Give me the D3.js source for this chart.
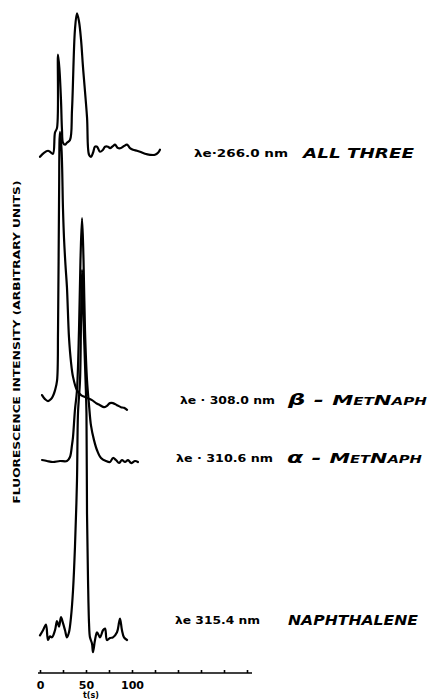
<!DOCTYPE html>
<html>
<head>
<meta charset="utf-8">
<script src="https://cdn.jsdelivr.net/npm/d3@7"></script>
<style>
  html, body { margin: 0; padding: 0; background: #fff; }
  svg { display: block; }
</style>
</head>
<body>
<svg id="chart" width="430" height="700"></svg>
<script>
// Elution time (s) and fluorescence intensity (arbitrary units, above each trace's own baseline)
const allThreeT = [0, 4.3, 8.7, 10.9, 14.1, 16.3, 18.5, 19.6, 21.2, 22.8, 23.9, 25.0, 27.2, 29.3, 32.6, 34.8, 38.0, 40.2, 42.4, 44.6, 46.7, 51.1, 53.3, 55.4, 57.6, 59.8, 62.0, 65.2, 68.5, 70.7, 73.9, 76.1, 79.3, 81.5, 84.8, 88.0, 91.3, 94.6, 97.8, 101.1, 105.4, 108.7, 114.1, 119.6, 125.0, 128.3, 130.4];
const allThreeI = [-0.6, 0, 0.3, 0.15, -0.15, 3.0, 3.7, 14.6, 12.3, 7.9, 3.4, 1.5, 1.2, 1.5, 1.9, 6.4, 18.3, 20.7, 19.5, 16.8, 12.8, 5.3, -0.3, -0.6, 0, 0.9, 0.9, 0.15, 0.45, 0.9, 0.9, 0.7, 1.0, 1.2, 0.7, 0.7, 1.0, 1.2, 0.7, 0.45, 0.3, 0.15, -0.15, -0.3, -0.3, 0, 0.45];

const betaT = [2.2, 5.4, 8.7, 12.0, 14.1, 16.3, 18.5, 19.6, 20.7, 21.7, 23.4, 25.0, 26.1, 27.7, 29.3, 31.5, 33.7, 35.9, 40.2, 44.6, 48.9, 56.5, 60.9, 65.2, 69.6, 72.8, 76.1, 79.3, 83.7, 88.0, 91.3, 94.6];
const betaI = [0.3, -0.3, -0.6, -0.3, 0.15, 1.0, 2.4, 10.0, 29.3, 39.4, 36.8, 27.9, 23.6, 19.6, 16.3, 8.9, 5.2, 3.0, 1.0, 0.3, 0, -0.45, -0.9, -1.2, -1.5, -1.3, -0.9, -0.9, -1.2, -1.5, -1.6, -1.9];

const alphaT = [2.2, 7.6, 14.1, 21.7, 29.3, 32.6, 34.8, 35.9, 38.0, 40.2, 42.4, 44.0, 45.7, 47.3, 48.9, 51.1, 53.3, 55.4, 58.7, 62.0, 66.3, 71.7, 76.1, 79.3, 82.6, 85.9, 89.1, 92.4, 95.7, 98.9, 103.3, 106.5];
const alphaI = [0.15, 0, -0.15, 0, 0, 0.6, 2.4, 3.6, 7.6, 10.5, 19.5, 29.9, 36.1, 29.9, 19.5, 12.0, 8.3, 5.3, 3.1, 1.6, 0.45, 0, -0.15, 0.45, 0.15, -0.3, 0.15, -0.15, 0.15, -0.3, 0, -0.15];

const naphT = [0, 3.3, 6.5, 8.7, 10.9, 13.0, 16.3, 18.5, 20.7, 22.8, 25.0, 27.2, 29.3, 31.5, 33.7, 35.9, 38.0, 40.2, 41.3, 43.5, 44.6, 45.7, 47.3, 49.5, 50.5, 51.1, 52.2, 53.3, 54.3, 56.5, 57.6, 59.8, 62.0, 65.2, 68.5, 70.7, 72.8, 76.1, 79.3, 83.7, 85.9, 87.0, 89.1, 91.3, 94.6];
const naphI = [-0.3, 0.45, 1.3, -1.0, -0.45, -0.6, 0.45, 1.8, 1.0, 2.4, 1.5, 0.45, -0.6, 0.15, 2.4, 6.4, 12.8, 22.7, 32.7, 37.6, 46.5, 54.0, 46.5, 37.6, 32.7, 17.8, 7.9, 1.5, -0.6, -1.5, -2.8, -1.0, 0.15, -0.6, 0.45, 0.7, -1.0, -0.7, -0.6, 0.15, 1.6, 2.2, 0.45, -0.6, -1.0];

// Vertical offset of each trace on the shared intensity axis
const traceOffsets = [77.3, 41.0, 31.5, 5.9];
const excitationLabels = ["λe·266.0 nm", "λe · 308.0 nm", "λe · 310.6 nm", "λe 315.4 nm"];
// Compound names: Greek prefix (plain) and name (small caps)
const compoundPrefix = ["", "β - ", "α - ", ""];
const compoundNames = ["ALL THREE", "MetNaph", "MetNaph", "NAPHTHALENE"];

const tickValues = [0, 25, 50, 75, 100, 125, 150, 175, 200, 225];
const tickLabels = ["0", "", "50", "", "100", "", "", "", "", ""];
const xTitle = "t(s)";
const yTitle = "FLUORESCENCE INTENSITY (ARBITRARY UNITS)";

const svg = d3.select("#chart");

const x = d3.scaleLinear().domain([0, 100]).range([40, 132]);
const y = d3.scaleLinear().domain([0, 100]).range([673, 0]);

const traces = [
  { t: allThreeT, v: allThreeI },
  { t: betaT, v: betaI },
  { t: alphaT, v: alphaI },
  { t: naphT, v: naphI }
];

const line = d3.line()
  .x(d => x(d[0]))
  .y(d => y(d[1]))
  .curve(d3.curveCatmullRom.alpha(0.5));

traces.forEach((tr, i) => {
  const pts = tr.t.map((t, k) => [t, tr.v[k] + traceOffsets[i]]);
  svg.append("path")
    .attr("d", line(pts))
    .attr("fill", "none")
    .attr("stroke", "#000")
    .attr("stroke-width", 2.2)
    .attr("stroke-linejoin", "round")
    .attr("stroke-linecap", "round");
});

// Trace labels: excitation wavelength and compound name
const labelLayout = [
  { lx: 194, lw: 94, nx: 303, nw: 111, cy: 153 },
  { lx: 180, lw: 95, nx: 288, nw: 139, cy: 400 },
  { lx: 176, lw: 97, nx: 287, nw: 135, cy: 458 },
  { lx: 175, lw: 85, nx: 288, nw: 130, cy: 620 }
];

labelLayout.forEach((p, i) => {
  svg.append("text")
    .attr("x", p.lx)
    .attr("y", p.cy)
    .attr("dy", "0.35em")
    .attr("textLength", p.lw)
    .attr("lengthAdjust", "spacingAndGlyphs")
    .style("font-family", "'DejaVu Sans', sans-serif")
    .style("font-weight", "bold")
    .style("font-size", "10px")
    .text(excitationLabels[i]);
  const name = svg.append("text")
    .attr("x", p.nx)
    .attr("y", p.cy)
    .attr("dy", "0.35em")
    .attr("textLength", p.nw)
    .attr("lengthAdjust", "spacingAndGlyphs")
    .style("font-family", "'DejaVu Sans', sans-serif")
    .style("font-weight", "bold")
    .style("font-style", "italic")
    .style("font-size", "14px");
  if (compoundPrefix[i]) {
    name.append("tspan")
      .style("font-size", "16px")
      .text(compoundPrefix[i]);
  }
  name.append("tspan")
    .style("font-variant", "small-caps")
    .text(compoundNames[i]);
});

// Time axis with small upward ticks
const xAxis = d3.axisBottom(x)
  .tickValues(tickValues)
  .tickSize(-3)
  .tickSizeOuter(0)
  .tickPadding(8)
  .tickFormat((d, i) => tickLabels[i]);

const gx = svg.append("g")
  .attr("transform", "translate(0,673)")
  .call(xAxis);
gx.select(".domain")
  .attr("d", "M38,0H252")
  .attr("stroke", "#000")
  .attr("stroke-width", 1.6);
gx.selectAll(".tick line").attr("stroke", "#000").attr("stroke-width", 1.6);
gx.selectAll(".tick text")
  .style("font-family", "'DejaVu Sans', sans-serif")
  .style("font-weight", "bold")
  .style("font-size", "11px")
  .attr("fill", "#000");

svg.append("text")
  .attr("x", 91)
  .attr("y", 698)
  .attr("text-anchor", "middle")
  .style("font-family", "'DejaVu Sans', sans-serif")
  .style("font-weight", "bold")
  .style("font-size", "8px")
  .text(xTitle);

svg.append("text")
  .attr("transform", "translate(17,342) rotate(-90)")
  .attr("text-anchor", "middle")
  .attr("dy", "0.35em")
  .attr("textLength", 323)
  .attr("lengthAdjust", "spacingAndGlyphs")
  .style("font-family", "'DejaVu Sans', sans-serif")
  .style("font-weight", "bold")
  .style("font-size", "8.5px")
  .text(yTitle);
</script>
</body>
</html>
